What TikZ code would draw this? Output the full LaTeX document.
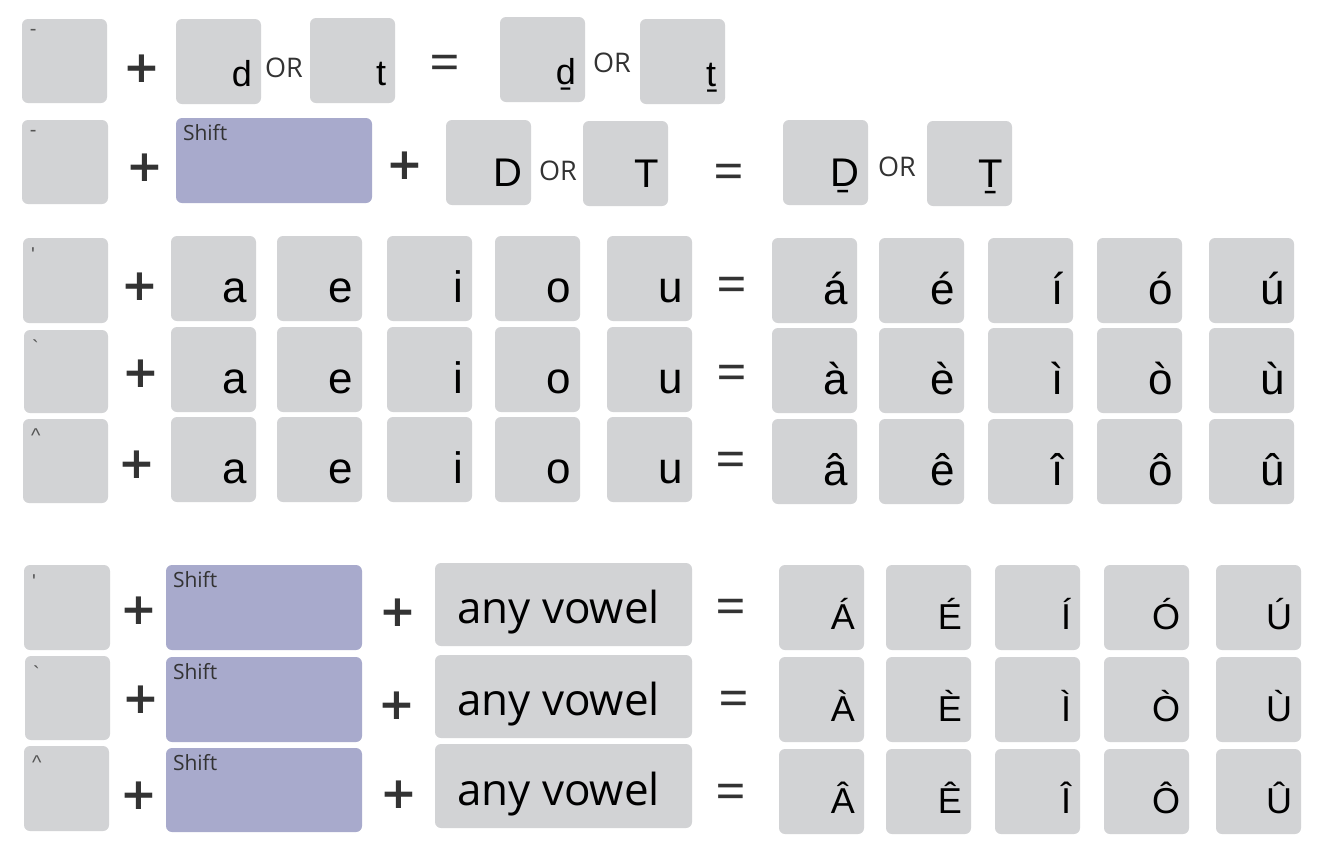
\documentclass[tikz,border=0pt]{standalone}
\usepackage{fontspec}
\setmainfont{Liberation Sans}
\newfontfamily\uifont{Open Sans}
\newfontfamily\plusfont{DejaVu Sans}
\newfontfamily\markfont{Liberation Sans}[Ligatures=ResetAll]
\usetikzlibrary{calc}
\definecolor{keygray}{RGB}{210,211,213}
\definecolor{shiftblue}{RGB}{168,170,204}
\definecolor{markgray}{RGB}{85,85,85}
\definecolor{opgray}{RGB}{51,51,51}
\tikzset{
  keyst/.style={fill=keygray, draw=none, rounded corners=6pt, inner sep=0pt},
  shiftst/.style={fill=shiftblue, draw=none, rounded corners=6pt, inner sep=0pt},
  lowtxt/.style={anchor=base east, inner sep=0pt, font=\fontsize{36}{40}\selectfont},
  bigcap/.style={anchor=base east, inner sep=0pt, font=\fontsize{40}{44}\selectfont},
  keytxt/.style={anchor=base east, inner sep=0pt, font=\fontsize{44}{48}\selectfont},
  captxt/.style={anchor=base east, inner sep=0pt, font=\fontsize{36}{40}\selectfont},
  marktxt/.style={anchor=north west, inner sep=0pt, text=markgray, font=\markfont\fontsize{20}{22}\selectfont},
  shifttxt/.style={anchor=north west, inner sep=0pt, text=opgray, font=\uifont\fontsize{21}{23}\selectfont},
  ortxt/.style={inner sep=0pt, text=opgray, font=\uifont\fontsize{27}{29}\selectfont},
  plusst/.style={inner sep=0pt, yshift=-3pt, text=opgray, font=\plusfont\bfseries\fontsize{44}{46}\selectfont},
  eqst/.style={inner sep=0pt, yshift=-7pt, text=opgray, font=\uifont\fontsize{54}{56}\selectfont},
  vowelst/.style={anchor=base, inner sep=0pt, text=black, font=\uifont\fontsize{44}{46}\selectfont},
}
% key: #1 style, #2 name, #3 x1, #4 y1, #5 x2, #6 y2
\newcommand\mkkey[6]{%
  \node[#1, minimum width={(#5-#3)*1pt}, minimum height={(#6-#4)*1pt}] (#2) at ({(#3+#5)/2},{(#4+#6)/2}) {};}
% letter key: #1 name, #2 x1, #3 y1, #4 text, #5 text style, #6 baseline offset
\newcommand\letterkey[6]{%
  \mkkey{keyst}{#1}{#2}{#3}{#2+85}{#3+85}
  \node[#5] (#1t) at ([xshift=-9pt, yshift=#6pt]#1.south east) {#4};}
\newcommand\acckey[6]{%
  \mkkey{keyst}{#1}{#2}{#3}{#4}{#5}
  \node[marktxt] (#1m) at ([xshift=8pt, yshift=-10pt]#1.north west) {#6};}
\begin{document}
\begin{tikzpicture}[x=1pt, y=-1pt]
\useasboundingbox (0,0) rectangle (1318,852);
\fill[white] (0,0) rectangle (1318,852);
% ---------- Row 1 ----------
\acckey{ra}{22}{19}{107}{103}{-}
\node[plusst] (pa) at (142,66) {+};
\letterkey{rb}{176}{19}{d}{lowtxt}{18}
\node[ortxt] (oa) at (284,68) {OR};
\letterkey{rc}{310}{18}{t}{lowtxt}{18}
\node[eqst] (ea) at (445,61) {=};
\letterkey{rd}{500}{17}{ḏ}{lowtxt}{18}
\node[ortxt] (ob) at (612,63) {OR};
\letterkey{re}{640}{19}{ṯ}{lowtxt}{18}
% ---------- Row 2 ----------
\acckey{sa}{22}{120}{108}{204}{-}
\node[plusst] (pb) at (145,165) {+};
\mkkey{shiftst}{sb}{176}{118}{372}{203}
\node[shifttxt] (sbt) at ([xshift=7pt, yshift=-6pt]sb.north west) {Shift};
\node[plusst] (pc) at (405,163) {+};
\letterkey{sc}{446}{120}{D}{bigcap}{19}
\node[ortxt] (oc) at (558,171) {OR};
\letterkey{sd}{583}{121}{T}{bigcap}{19}
\node[eqst] (eb) at (729,170) {=};
\letterkey{se}{783}{120}{Ḏ}{bigcap}{19}
\node[ortxt] (od) at (897,167) {OR};
\letterkey{sf}{927}{121}{Ṯ}{bigcap}{19}
% ---------- Rows 3-5 (lower-case vowels) ----------
\acckey{ta}{23}{238}{108}{323}{\textquotesingle}
\node[plusst] (pd) at (140,284) {+};
\acckey{ua}{24}{330}{108}{413}{\textasciigrave}
\node[plusst] (pe) at (141,371) {+};
\acckey{va}{23}{419}{108}{503}{\textasciicircum}
\node[plusst] (pf) at (137,462) {+};
\foreach \n/\x/\l in {1/171/a,2/277/e,3/387/i,4/495/o,5/607/u}{
  \letterkey{ti\n}{\x}{236}{\l}{keytxt}{19}
  \letterkey{ui\n}{\x}{327}{\l}{keytxt}{19}
  \letterkey{vi\n}{\x}{417}{\l}{keytxt}{19}
}
\node[eqst] (ec) at (732,283) {=};
\node[eqst] (ed) at (732,371) {=};
\node[eqst] (ee) at (731,458) {=};
\foreach \n/\x/\la/\lb/\lc in {1/772/á/à/â,2/879/é/è/ê,3/988/í/ì/î,4/1097/ó/ò/ô,5/1209/ú/ù/û}{
  \letterkey{to\n}{\x}{238}{\la}{keytxt}{19}
  \letterkey{uo\n}{\x}{328}{\lb}{keytxt}{19}
  \letterkey{vo\n}{\x}{419}{\lc}{keytxt}{19}
}
% ---------- Rows 6-8 (capitals) ----------
\acckey{wa}{24}{565}{110}{650}{\textquotesingle}
\acckey{xa}{25}{656}{110}{740}{\textasciigrave}
\acckey{ya}{24}{746}{109}{831}{\textasciicircum}
\node[plusst] (pg) at (139,608) {+};
\node[plusst] (ph) at (141,697) {+};
\node[plusst] (pi) at (139,793) {+};
\mkkey{shiftst}{wb}{166}{565}{362}{650}
\mkkey{shiftst}{xb}{166}{657}{362}{742}
\mkkey{shiftst}{yb}{166}{748}{362}{832}
\node[shifttxt] (wbt) at ([xshift=7pt, yshift=-6pt]wb.north west) {Shift};
\node[shifttxt] (xbt) at ([xshift=7pt, yshift=-6pt]xb.north west) {Shift};
\node[shifttxt] (ybt) at ([xshift=7pt, yshift=-6pt]yb.north west) {Shift};
\node[plusst] (pj) at (398,610) {+};
\node[plusst] (pk) at (397,703) {+};
\node[plusst] (pl) at (399,792) {+};
\mkkey{keyst}{wc}{435}{563}{692}{646}
\mkkey{keyst}{xc}{435}{655}{692}{738}
\mkkey{keyst}{yc}{435}{744}{692}{828}
\node[vowelst] (wct) at ([xshift=-5pt, yshift=23pt]wc.south) {any vowel};
\node[vowelst] (xct) at ([xshift=-5pt, yshift=23pt]xc.south) {any vowel};
\node[vowelst] (yct) at ([xshift=-5pt, yshift=23pt]yc.south) {any vowel};
\node[eqst] (ef) at (731,605) {=};
\node[eqst] (eg) at (734,697) {=};
\node[eqst] (eh) at (731,790) {=};
\foreach \n/\x/\la/\lb/\lc in {1/779/Á/À/Â,2/886/É/È/Ê,3/995/Í/Ì/Î,4/1104/Ó/Ò/Ô,5/1216/Ú/Ù/Û}{
  \letterkey{wo\n}{\x}{565}{\la}{captxt}{21}
  \letterkey{xo\n}{\x}{657}{\lb}{captxt}{21}
  \letterkey{yo\n}{\x}{749}{\lc}{captxt}{21}
}
\end{tikzpicture}
\end{document}
